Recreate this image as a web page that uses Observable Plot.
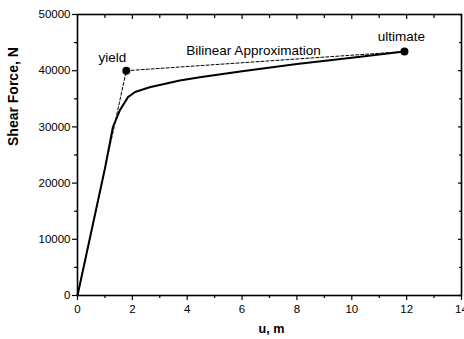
<!DOCTYPE html>
<html>
<head>
<meta charset="utf-8">
<script src="https://cdn.jsdelivr.net/npm/d3@7"></script>
<script src="https://cdn.jsdelivr.net/npm/@observablehq/plot@0.6"></script>
<style>
  html, body { margin: 0; padding: 0; background: #fff; }
  svg { display: block; }
</style>
</head>
<body>
<div id="chart"></div>
<script>
// Load–displacement response (solid) and its bilinear idealisation (dashed)
const displacement = [0, 1.0, 1.29, 1.54, 1.84, 2.1, 2.63, 3.73, 4.46, 6, 8, 10, 11.92];
const shearForce   = [0, 22600, 29950, 32900, 35300, 36200, 37060, 38260, 38840, 39900, 41200, 42300, 43400];

const bilinearU = [0, 1.78, 11.92];
const bilinearF = [0, 40000, 43400];

const pointNames = ["yield", "ultimate"];
const pointU = [1.78, 11.92];
const pointF = [40000, 43400];

const xMajor = [0, 2, 4, 6, 8, 10, 12, 14];
const xMinor = [1, 3, 5, 7, 9, 11, 13];
const yMajor = [0, 10000, 20000, 30000, 40000, 50000];
const yMinor = [5000, 15000, 25000, 35000, 45000];

const curve = displacement.map((u, i) => ({u, f: shearForce[i]}));
const bilinear = bilinearU.map((u, i) => ({u, f: bilinearF[i]}));
const points = pointNames.map((name, i) => ({name, u: pointU[i], f: pointF[i]}));

const font = "'Liberation Sans', Arial, sans-serif";
const blank = () => "";

const chart = Plot.plot({
  width: 464,
  height: 339,
  marginLeft: 77,
  marginRight: 3,
  marginTop: 14,
  marginBottom: 44,
  style: {fontFamily: font, fontSize: "11.5px", color: "#000", background: "#fff"},
  x: {domain: [0, 14]},
  y: {domain: [0, 50000]},
  marks: [
    // left axis, outward ticks
    Plot.axisY(yMajor, {anchor: "left", tickSize: 5, tickPadding: 2, tickFormat: d => String(d), fontSize: 11.5, label: null, strokeWidth: 1.2}),
    Plot.axisY(yMinor, {anchor: "left", tickSize: 3, tickFormat: blank, label: null, strokeWidth: 1.2}),
    // bottom axis, outward ticks
    Plot.axisX(xMajor, {anchor: "bottom", tickSize: 5, tickPadding: 4, tickFormat: d => String(d), fontSize: 11.5, label: null, strokeWidth: 1.2}),
    Plot.axisX(xMinor, {anchor: "bottom", tickSize: 3, tickFormat: blank, label: null, strokeWidth: 1.2}),
    // mirrored ticks on top and right, pointing inward
    Plot.axisX(xMajor, {anchor: "top", tickSize: 4, dy: 4, tickFormat: blank, label: null, strokeWidth: 1.2}),
    Plot.axisX(xMinor, {anchor: "top", tickSize: 3, dy: 3, tickFormat: blank, label: null, strokeWidth: 1.2}),
    Plot.axisY(yMajor, {anchor: "right", tickSize: 4, dx: -4, tickFormat: blank, label: null, strokeWidth: 1.2}),
    Plot.axisY(yMinor, {anchor: "right", tickSize: 3, dx: -3, tickFormat: blank, label: null, strokeWidth: 1.2}),
    Plot.frame({stroke: "#000", strokeWidth: 1.6}),
    // bilinear approximation
    Plot.line(bilinear, {x: "u", y: "f", stroke: "#000", strokeWidth: 1, strokeDasharray: "3,2"}),
    // measured response
    Plot.line(curve, {x: "u", y: "f", stroke: "#000", strokeWidth: 2, strokeLinejoin: "round"}),
    Plot.dot(points, {x: "u", y: "f", r: 4, fill: "#000", stroke: "none"}),
    Plot.text(points.slice(0, 1), {x: "u", y: "f", text: "name", dx: -14, dy: -13, fontSize: 13.5}),
    Plot.text(points.slice(1), {x: "u", y: "f", text: "name", dx: -3, dy: -15, fontSize: 13.5}),
    Plot.text(["Bilinear Approximation"], {frameAnchor: "top", dx: -16, dy: 31, fontSize: 13.5}),
    // axis titles
    Plot.text(["u, m"], {frameAnchor: "bottom", dx: 2, dy: 37, fontSize: 12.6, fontWeight: "bold"}),
    Plot.text(["Shear Force, N"], {frameAnchor: "left", dx: -64, dy: -9, rotate: -90, fontSize: 14, fontWeight: "bold"})
  ]
});

document.getElementById("chart").appendChild(chart);
</script>
</body>
</html>
